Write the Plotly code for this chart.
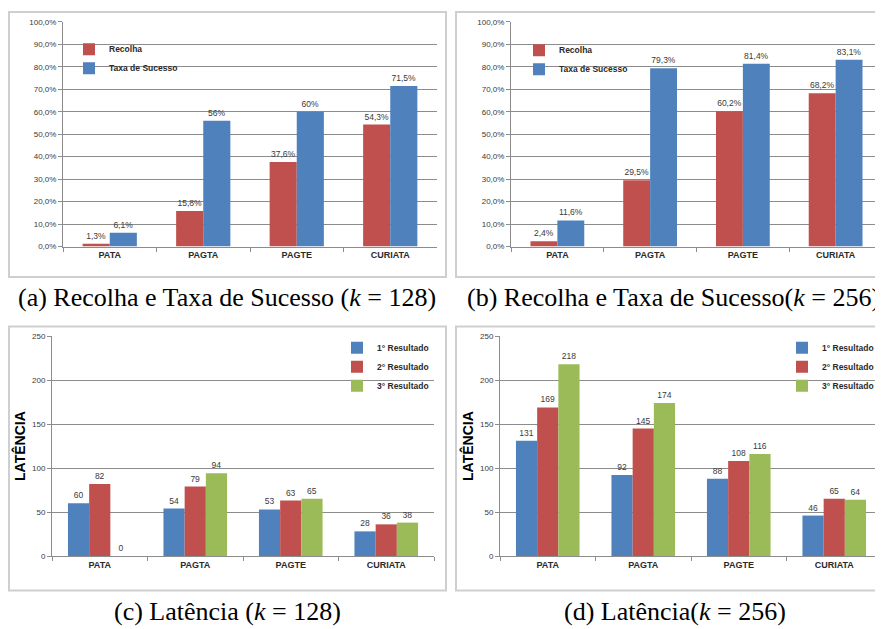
import plotly.graph_objects as go

# The page body has an 8px margin, so the figure is sized to fill the
# 883x629 window from (8, 8); layout positions below are in window pixels.
PAGE_W, PAGE_H = 883, 629
OFF = 8
W, H = PAGE_W - OFF, PAGE_H - OFF

categories = ["PATA", "PAGTA", "PAGTE", "CURIATA"]

# (a) k = 128
recolha_128 = [1.3, 15.8, 37.6, 54.3]
taxa_128 = [6.1, 56.0, 60.0, 71.5]
recolha_128_lbl = ["1,3%", "15,8%", "37,6%", "54,3%"]
taxa_128_lbl = ["6,1%", "56%", "60%", "71,5%"]

# (b) k = 256
recolha_256 = [2.4, 29.5, 60.2, 68.2]
taxa_256 = [11.6, 79.3, 81.4, 83.1]
recolha_256_lbl = ["2,4%", "29,5%", "60,2%", "68,2%"]
taxa_256_lbl = ["11,6%", "79,3%", "81,4%", "83,1%"]

# (c) latency k = 128
lat128_r1 = [60, 54, 53, 28]
lat128_r2 = [82, 79, 63, 36]
lat128_r3 = [0, 94, 65, 38]

# (d) latency k = 256
lat256_r1 = [131, 92, 88, 46]
lat256_r2 = [169, 145, 108, 65]
lat256_r3 = [218, 174, 116, 64]

pct_ticks = [0, 10, 20, 30, 40, 50, 60, 70, 80, 90, 100]
pct_ticktext = ["0,0%", "10,0%", "20,0%", "30,0%", "40,0%", "50,0%",
                "60,0%", "70,0%", "80,0%", "90,0%", "100,0%"]
lat_ticks = [0, 50, 100, 150, 200, 250]

series_names_pct = ["Recolha", "Taxa de Sucesso"]
series_names_lat = ["1° Resultado", "2° Resultado", "3° Resultado"]

RED = "#C0504D"
BLUE = "#4F81BD"
GREEN = "#9BBB59"

captions = [
    "(a) Recolha e Taxa de Sucesso (<i>k</i> = 128)",
    "(b) Recolha e Taxa de Sucesso(<i>k</i> = 256)",
    "(c) Latência (<i>k</i> = 128)",
    "(d) Latência(<i>k</i> = 256)",
]

def fx(px):
    return (px - OFF) / W

def fy(py):
    return 1 - (py - OFF) / H

SANS = "Liberation Sans, Arial"
TICKFONT = dict(family=SANS, size=8, color="#3a3a3a")
LBLFONT = dict(family=SANS, size=8.5, color="#3a3a3a")
CATFONT = dict(family=SANS, size=9, color="#2a2a2a", weight="bold")
LEGFONT = dict(family=SANS, size=8.5, color="#2a2a2a", weight="bold")

fig = go.Figure()

def add_bar(y, name, color, xa, ya, legend, text, width, offset):
    fig.add_trace(go.Bar(
        x=categories, y=y, name=name, marker=dict(color=color, line=dict(width=0)),
        xaxis=xa, yaxis=ya, legend=legend, width=width, offset=offset,
        text=text, textposition="outside", textfont=LBLFONT,
        cliponaxis=False, hoverinfo="skip",
    ))

W2 = 0.29   # bar width (category units) in the two-series charts
W3 = 0.222  # bar width in the three-series charts

# (a)
add_bar(recolha_128, series_names_pct[0], RED, "x", "y", "legend", recolha_128_lbl, W2, -W2)
add_bar(taxa_128, series_names_pct[1], BLUE, "x", "y", "legend", taxa_128_lbl, W2, 0)
# (b)
add_bar(recolha_256, series_names_pct[0], RED, "x2", "y2", "legend2", recolha_256_lbl, W2, -W2)
add_bar(taxa_256, series_names_pct[1], BLUE, "x2", "y2", "legend2", taxa_256_lbl, W2, 0)
# (c)
add_bar(lat128_r1, series_names_lat[0], BLUE, "x3", "y3", "legend3", [str(v) for v in lat128_r1], W3, -1.5 * W3)
add_bar(lat128_r2, series_names_lat[1], RED, "x3", "y3", "legend3", [str(v) for v in lat128_r2], W3, -0.5 * W3)
add_bar(lat128_r3, series_names_lat[2], GREEN, "x3", "y3", "legend3", [str(v) for v in lat128_r3], W3, 0.5 * W3)
# (d)
add_bar(lat256_r1, series_names_lat[0], BLUE, "x4", "y4", "legend4", [str(v) for v in lat256_r1], W3, -1.5 * W3)
add_bar(lat256_r2, series_names_lat[1], RED, "x4", "y4", "legend4", [str(v) for v in lat256_r2], W3, -0.5 * W3)
add_bar(lat256_r3, series_names_lat[2], GREEN, "x4", "y4", "legend4", [str(v) for v in lat256_r3], W3, 0.5 * W3)

GRID = "#8c8c8c"

def xaxis(domain, anchor):
    return dict(domain=domain, anchor=anchor, type="category",
                showline=True, linecolor=GRID, linewidth=1,
                ticks="outside", tickson="boundaries", ticklen=4, tickcolor=GRID,
                tickfont=CATFONT, showgrid=False, fixedrange=True)

def yaxis(domain, anchor, rng, tickvals, ticktext=None, title=None, standoff=5):
    d = dict(domain=domain, anchor=anchor, range=rng, tickmode="array",
             tickvals=tickvals, showline=True, linecolor=GRID, linewidth=1,
             ticks="outside", ticklen=4, tickcolor=GRID, tickfont=TICKFONT,
             showgrid=True, gridcolor=GRID, gridwidth=1, zeroline=False,
             fixedrange=True)
    if ticktext is not None:
        d["ticktext"] = ticktext
    if title:
        d["title"] = dict(text=title, font=dict(family=SANS, size=14,
                                                color="black", weight="bold"), standoff=standoff)
    return d

ya_dom = [fy(246), fy(18)]
yc_dom = [fy(560), fy(337)]

LEG = dict(font=LEGFONT, bgcolor="rgba(0,0,0,0)", itemwidth=30,
           xanchor="left", yanchor="top")

fig.update_layout(
    width=W, height=H, margin=dict(l=0, r=0, t=0, b=0),
    paper_bgcolor="white", plot_bgcolor="white",
    barmode="group", bargap=0.42, bargroupgap=0,
    xaxis=xaxis([fx(63), fx(437)], "y"),
    yaxis=yaxis(ya_dom, "x", [0, 100], pct_ticks, pct_ticktext),
    xaxis2=xaxis([fx(511), fx(882)], "y2"),
    yaxis2=yaxis(ya_dom, "x2", [0, 100], pct_ticks, pct_ticktext),
    xaxis3=xaxis([fx(52), fx(434)], "y3"),
    yaxis3=yaxis(yc_dom, "x3", [0, 250], lat_ticks, title="LATÊNCIA", standoff=3),
    xaxis4=xaxis([fx(500), fx(882)], "y4"),
    yaxis4=yaxis(yc_dom, "x4", [0, 250], lat_ticks, title="LATÊNCIA", standoff=3),
    legend=dict(LEG, x=fx(69), y=fy(31)),
    legend2=dict(LEG, x=fx(519), y=fy(32)),
    legend3=dict(LEG, x=fx(337), y=fy(334)),
    legend4=dict(LEG, x=fx(782), y=fy(334)),
    showlegend=True,
)

# borders of the four panels
BORDER = "#cfcfcf"
for (x0, y0, x1, y1) in [(9, 8, 446, 277), (456, 8, 895, 277),
                         (9, 327, 446, 595), (456, 327, 895, 595)]:
    fig.add_shape(type="rect", xref="paper", yref="paper",
                  x0=fx(x0), x1=fx(x1), y0=fy(y1), y1=fy(y0),
                  line=dict(color=BORDER, width=2), layer="below")

# captions
cap_pos = [(227, 298), (673, 298), (227, 616), (675, 616)]
for txt, (cx, cy) in zip(captions, cap_pos):
    fig.add_annotation(text=txt, xref="paper", yref="paper", x=fx(cx), y=fy(cy),
                       xanchor="center", yanchor="middle", showarrow=False,
                       font=dict(family="Liberation Serif, serif", size=26,
                                 color="black"))

fig.write_html("out.html")
